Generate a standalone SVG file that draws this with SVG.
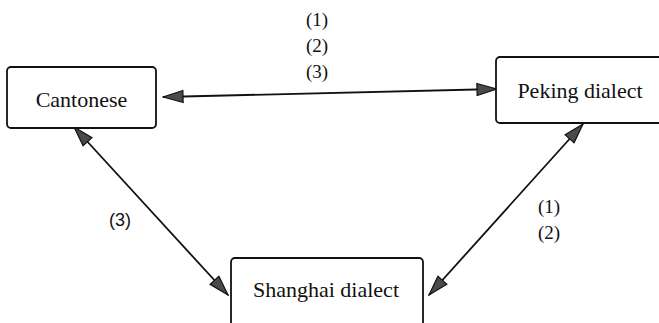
<svg xmlns="http://www.w3.org/2000/svg" width="659" height="323" viewBox="0 0 659 323">
  <style>
    .box { fill: #ffffff; stroke: #111111; stroke-width: 1.8; }
    .name { font-family: "Liberation Serif", "Times New Roman", serif; font-size: 22px; fill: #111111; text-anchor: middle; }
    .tag { font-family: "Liberation Serif", "Times New Roman", serif; font-size: 19px; fill: #111111; text-anchor: middle; }
    .tag-sans { font-family: "Liberation Sans", Arial, sans-serif; font-size: 18px; fill: #111111; text-anchor: middle; }
    .link { stroke: #111111; stroke-width: 1.8; fill: none; marker-start: url(#head); marker-end: url(#head); }
  </style>
  <defs>
    <marker id="head" viewBox="0 0 22 14" refX="21" refY="7" markerWidth="22" markerHeight="14" markerUnits="userSpaceOnUse" orient="auto-start-reverse">
      <path d="M1,1 L21,7 L1,13 Z" fill="#4a4a4a" stroke="#111111" stroke-width="1.2" stroke-linejoin="miter"/>
    </marker>
  </defs>
  <rect width="659" height="323" fill="#ffffff"/>

  <!-- connectors -->
  <g id="connectors">
    <line class="link" x1="163" y1="97" x2="497" y2="89"/>
    <line class="link" x1="74" y1="127" x2="228" y2="295"/>
    <line class="link" x1="583" y1="124" x2="429" y2="295"/>
    <text class="tag" x="317" y="26">(1)</text>
    <text class="tag" x="317" y="52">(2)</text>
    <text class="tag" x="317" y="78">(3)</text>
    <text class="tag-sans" x="120" y="226">(3)</text>
    <text class="tag" x="549" y="213">(1)</text>
    <text class="tag" x="549" y="239">(2)</text>
  </g>

  <!-- nodes -->
  <g id="cantonese">
    <rect class="box" x="7" y="67" width="149" height="61" rx="4"/>
    <text class="name" x="81.5" y="107">Cantonese</text>
  </g>
  <g id="peking">
    <rect class="box" x="496" y="57" width="180" height="66" rx="4"/>
    <text class="name" x="580" y="98">Peking dialect</text>
  </g>
  <g id="shanghai">
    <rect class="box" x="231" y="258" width="192" height="80" rx="4"/>
    <text class="name" x="326" y="297">Shanghai dialect</text>
  </g>
</svg>
